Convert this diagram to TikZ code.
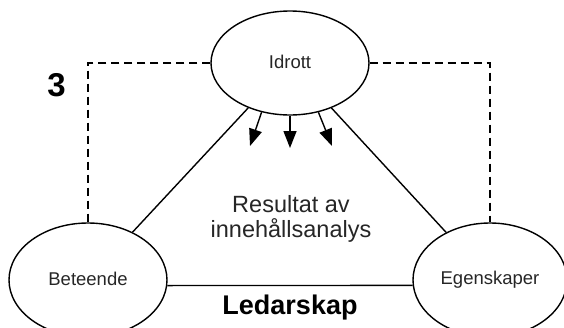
\documentclass[tikz,border=0pt]{standalone}
\usepackage{fontspec}
\setmainfont{Liberation Sans}
\usetikzlibrary{shapes.geometric,arrows.meta}
\begin{document}
\begin{tikzpicture}[x=1pt,y=-1pt,
  oval/.style={ellipse,draw,line width=1.4pt,inner sep=0pt,minimum width=158pt,
    font=\fontsize{18.5}{20}\selectfont,text=black!85},
  conn/.style={line width=1.4pt},
  dashconn/.style={line width=1.4pt,dash pattern=on 8pt off 5pt},
  flow/.style={line width=1.4pt,-{Triangle[length=17pt,width=13pt]}}]
\useasboundingbox (0,0) rectangle (564,327);
\node[oval,minimum height=104pt] (I) at (290,63) {\raisebox{2pt}{Idrott}};
\node[oval,minimum height=114pt] (B) at (88,280) {\raisebox{3pt}{Beteende}};
\node[oval,minimum width=154pt,minimum height=114pt] (E) at (490,280) {\raisebox{3pt}{Egenskaper}};
\node[font=\fontsize{23.5}{25}\selectfont,align=center,text=black!85] (R) at (291,219) {Resultat av\\innehållsanalys};
\node[font=\bfseries\fontsize{27}{28}\selectfont] (L) at (290,308) {Ledarskap};
\node[font=\bfseries\fontsize{33}{34}\selectfont] (N) at (56.5,85) {3};
\draw[conn] (I) -- (B);
\draw[conn] (I) -- (E);
\draw[conn] (B.-4) -- (E.184);
\draw[dashconn] (I.west) -| (B.north);
\draw[dashconn] (I.east) -| (E.north);
\coordinate (t1) at (250,146);
\coordinate (t2) at (290,148);
\coordinate (t3) at (332,146);
\draw[flow] (I.240) -- (t1);
\draw[flow] (I.south) -- (t2);
\draw[flow] (I.300) -- (t3);
\end{tikzpicture}
\end{document}
